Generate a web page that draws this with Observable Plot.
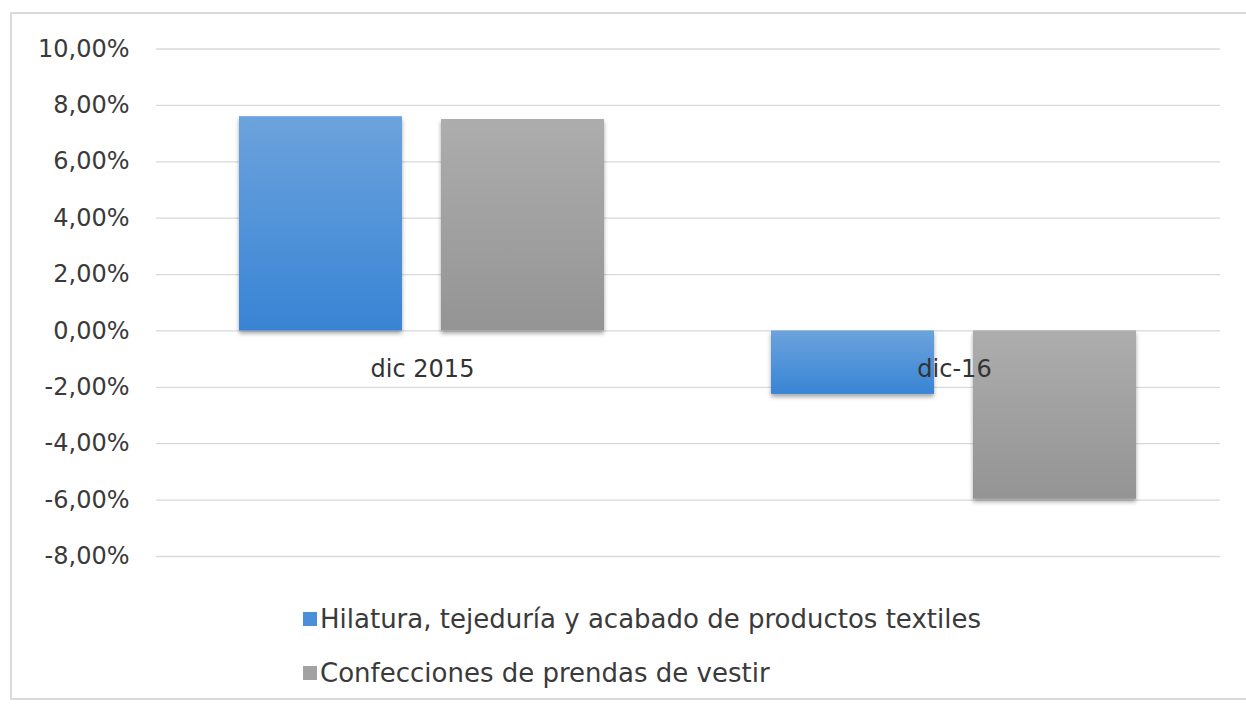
<!DOCTYPE html>
<html>
<head>
<meta charset="utf-8">
<script src="https://cdn.jsdelivr.net/npm/d3@7"></script>
<script src="https://cdn.jsdelivr.net/npm/@observablehq/plot@0.6"></script>
<style>
  html, body { margin: 0; padding: 0; background: #fff; overflow: hidden; }
  #wrap { position: relative; width: 1246px; height: 709px; overflow: hidden; font-family: "DejaVu Sans", sans-serif; }
  #frame { position: absolute; left: 10px; top: 12px; width: 1260px; height: 688px; border: 2px solid #dadada; border-right: none; box-sizing: border-box; }
  #chart { position: absolute; left: 0; top: 0; }
  .leg { position: absolute; left: 303px; display: flex; align-items: center; font-size: 26px; color: #3a3a3a; white-space: nowrap; }
  .sw { width: 14px; height: 14px; margin-right: 3px; }
</style>
</head>
<body>
<div id="wrap">
  <div id="frame"></div>
  <div id="chart"></div>
  <div id="legend"></div>
</div>
<script>
const categories = ["dic 2015", "dic-16"];
const series = ["Hilatura, tejeduría y acabado de productos textiles", "Confecciones de prendas de vestir"];
const hilatura = [7.6, -2.25];
const confecciones = [7.5, -5.97];
const yTicks = [-8, -6, -4, -2, 0, 2, 4, 6, 8, 10];
const seriesColors = ["#4a8fd8", "#a2a2a2"];

const data = [];
categories.forEach((c, i) => {
  data.push({category: c, series: series[0], value: hilatura[i]});
  data.push({category: c, series: series[1], value: confecciones[i]});
});

const fmt = v => (v < 0 ? "-" : "") + Math.abs(v).toFixed(2).replace(".", ",") + "%";

const chart = Plot.plot({
  width: 1246,
  height: 590,
  marginLeft: 155,
  marginRight: 26,
  marginTop: 48.5,
  marginBottom: 34,
  style: {fontFamily: "DejaVu Sans, sans-serif", fontSize: "24px", color: "#3a3a3a", background: "transparent", overflow: "visible"},
  fx: {domain: categories, axis: null, paddingInner: 0, paddingOuter: 0},
  x: {domain: series, axis: null, paddingInner: 0.192, paddingOuter: 0.4076},
  y: {domain: [-8, 10], axis: null},
  color: {type: "ordinal", domain: series, range: ["url(#gBlue)", "url(#gGray)"]},
  facet: {data: data, x: "category", marginTop: 0},
  marks: [
    Plot.ruleY(yTicks, {stroke: "#d9d9d9", strokeWidth: 1.3, strokeOpacity: 1, facet: false}),
    Plot.axisY(yTicks, {tickSize: 0, tickPadding: 27, tickFormat: fmt, fontSize: 24, fill: "#3a3a3a", label: null, anchor: "left"}),
    Plot.barY(data, {x: "series", y: "value", fill: "series"}),
    Plot.text(categories, {fx: d => d, y: () => 0, text: d => d, dy: 38, fontSize: 24, fill: "#333", frameAnchor: "middle"})
  ]
});

const svg = d3.select(chart.tagName === "svg" ? chart : chart.querySelector("svg"));
const defs = svg.insert("defs", ":first-child");
function grad(id, top, bottom) {
  const g = defs.append("linearGradient").attr("id", id).attr("x1", 0).attr("y1", 0).attr("x2", 0).attr("y2", 1);
  g.append("stop").attr("offset", "0%").attr("stop-color", top);
  g.append("stop").attr("offset", "100%").attr("stop-color", bottom);
}
grad("gBlue", "#6ca3dc", "#3884d5");
grad("gGray", "#adadad", "#949494");
const f = defs.append("filter").attr("id", "shadow").attr("x", "-10%").attr("y", "-10%").attr("width", "120%").attr("height", "130%");
f.append("feDropShadow").attr("dx", 0).attr("dy", 3).attr("stdDeviation", 2).attr("flood-color", "#000").attr("flood-opacity", 0.35);
svg.selectAll("rect").filter(function() { const v = this.getAttribute("fill"); return v && v.startsWith("url"); }).attr("filter", "url(#shadow)");

document.getElementById("chart").appendChild(chart);

const legend = document.getElementById("legend");
const legendY = [619, 673];
series.forEach((s, i) => {
  const row = document.createElement("div");
  row.className = "leg";
  row.style.top = (legendY[i] - 18) + "px";
  row.style.height = "36px";
  const sw = document.createElement("div");
  sw.className = "sw";
  sw.style.background = seriesColors[i];
  const t = document.createElement("span");
  t.textContent = s;
  row.appendChild(sw);
  row.appendChild(t);
  legend.appendChild(row);
});
</script>
</body>
</html>
